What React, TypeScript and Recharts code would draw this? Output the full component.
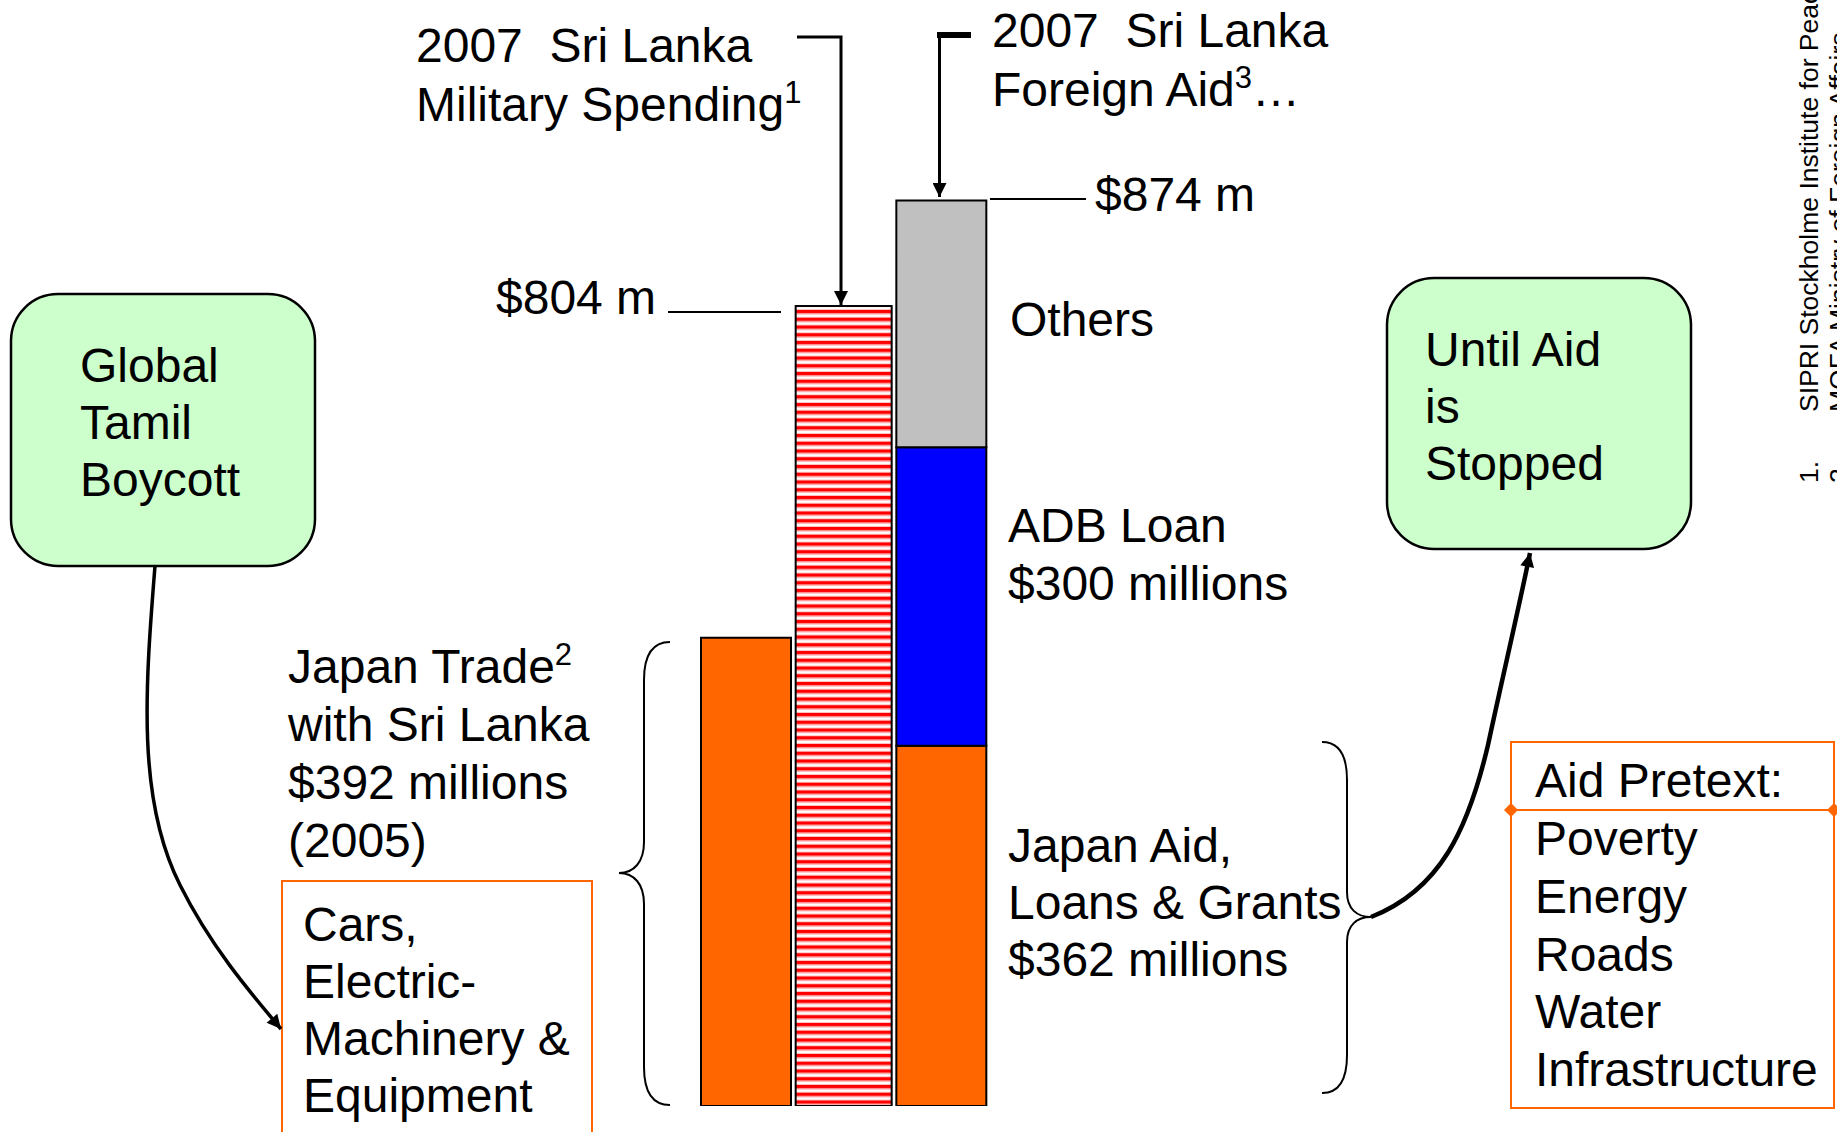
import React from 'react';
import { BarChart, Bar, XAxis, YAxis } from 'recharts';

// values in $ millions
const categories = ['Japan Trade 2005', 'Military Spending 2007', 'Foreign Aid 2007'];
const japanTrade = [392, null, null];
const militarySpending = [null, 804, null];
const japanAid = [null, null, 362];
const adbLoan = [null, null, 300];
const otherAid = [null, null, 248];

const data = categories.map((name, i) => ({
    name,
    trade: japanTrade[i],
    military: militarySpending[i],
    japanAid: japanAid[i],
    adb: adbLoan[i],
    others: otherAid[i],
}));

const W = 1837;
const H = 1132;
const font = '"Liberation Sans", Arial, Helvetica, sans-serif';
const orange = '#ff6600';

const StripedBar = (props: any) => {
    const { x, y, width, height } = props;
    if (!height) return null;
    return <rect x={x - 3} y={y} width={width + 6} height={height} fill="url(#redStripes)" stroke="#000" strokeWidth={2} />;
};

const Lines = ({ x, y, lines, lh = 58, size = 48 }: { x: number; y: number; lines: React.ReactNode[]; lh?: number; size?: number }) => (
    <text x={x} y={y} fontFamily={font} fontSize={size} fill="#000">
        {lines.map((l, i) => (
            <tspan key={i} x={x} y={y + i * lh}>{l}</tspan>
        ))}
    </text>
);

const Sup = ({ n }: { n: string }) => (
    <tspan fontSize={31} dy={-18}>{n}</tspan>
);

const Overlay = () => (
    <svg width={W} height={H} style={{ position: 'absolute', left: 0, top: 0, pointerEvents: 'none' }}>
        <defs>
            <marker id="arrow" viewBox="0 0 10 10" refX="10" refY="5" markerWidth="18" markerHeight="14" markerUnits="userSpaceOnUse" orient="auto">
                <path d="M0,0 L10,5 L0,10 z" fill="#000" />
            </marker>
        </defs>

        {/* top captions with connectors */}
        <text x={416} y={62} fontFamily={font} fontSize={48}>2007{'\u00a0\u00a0'}Sri Lanka</text>
        <text x={416} y={121} fontFamily={font} fontSize={48}>Military Spending<Sup n="1" /></text>
        <path d="M797,37 H841 V305" fill="none" stroke="#000" strokeWidth={3} markerEnd="url(#arrow)" />

        <text x={992} y={47} fontFamily={font} fontSize={48}>2007{'\u00a0\u00a0'}Sri Lanka</text>
        <text x={992} y={106} fontFamily={font} fontSize={48}>Foreign Aid<Sup n="3" /><tspan dy={18}>…</tspan></text>
        <line x1={937} y1={35} x2={971} y2={35} stroke="#000" strokeWidth={6} />
        <path d="M939.5,32 V197" fill="none" stroke="#000" strokeWidth={3} markerEnd="url(#arrow)" />

        {/* value callouts */}
        <line x1={990} y1={199} x2={1086} y2={199} stroke="#000" strokeWidth={2} />
        <text x={1095} y={211} fontFamily={font} fontSize={48}>$874 m</text>
        <line x1={668} y1={312} x2={781} y2={312} stroke="#000" strokeWidth={2} />
        <text x={496} y={314} fontFamily={font} fontSize={48}>$804 m</text>

        <Lines x={1010} y={336} lines={['Others']} />
        <Lines x={1008} y={542} lines={['ADB Loan', '$300 millions']} />
        <Lines x={1008} y={862} lines={['Japan Aid,', 'Loans & Grants', '$362 millions']} lh={57} />

        <Lines x={288} y={683} lines={[<>Japan Trade<Sup n="2" /></>, 'with Sri Lanka', '$392 millions', '(2005)']} />

        {/* left box and brace */}
        <rect x={282} y={881} width={310} height={270} fill="none" stroke={orange} strokeWidth={2} />
        <Lines x={303} y={941} lines={['Cars,', 'Electric-', 'Machinery &', 'Equipment']} lh={57} />
        <path d="M670,642 C652,642 644,656 644,680 L644,842 C644,862 634,873 619,873 C634,873 644,884 644,904 L644,1067 C644,1091 652,1105 670,1105"
            fill="none" stroke="#000" strokeWidth={2} />

        {/* global tamil boycott */}
        <rect x={11} y={294} width={304} height={272} rx={47} ry={47} fill="#ccffcc" stroke="#000" strokeWidth={2.5} />
        <Lines x={80} y={382} lines={['Global', 'Tamil', 'Boycott']} lh={57} />
        <path d="M155,566 C145,690 137,800 180,885 C210,945 248,990 281,1029" fill="none" stroke="#000" strokeWidth={3.5} markerEnd="url(#arrow)" />

        {/* until aid is stopped */}
        <rect x={1387} y={278} width={304} height={271} rx={47} ry={47} fill="#ccffcc" stroke="#000" strokeWidth={2.5} />
        <Lines x={1425} y={366} lines={['Until Aid', 'is', 'Stopped']} lh={57} />

        {/* right brace + arrow */}
        <path d="M1322,742 C1340,742 1347,756 1347,780 L1347,892 C1347,909 1357,917 1371,917 C1357,917 1347,925 1347,942 L1347,1055 C1347,1079 1340,1093 1322,1093"
            fill="none" stroke="#000" strokeWidth={2} />
        <path d="M1371,917 C1440,890 1468,830 1488,745 C1503,675 1518,612 1530,553" fill="none" stroke="#000" strokeWidth={4.5} markerEnd="url(#arrow)" />

        {/* aid pretext */}
        <rect x={1511} y={742} width={323} height={366} fill="none" stroke={orange} strokeWidth={2} />
        <line x1={1511} y1={810} x2={1834} y2={810} stroke={orange} strokeWidth={2} />
        <path d="M1511,803 L1518,810 L1511,817 L1504,810 z" fill={orange} />
        <path d="M1834,803 L1841,810 L1834,817 L1827,810 z" fill={orange} />
        <Lines x={1535} y={797} lines={['Aid Pretext:']} />
        <Lines x={1535} y={855} lines={['Poverty', 'Energy', 'Roads', 'Water', 'Infrastructure']} lh={57.8} />

        {/* footnotes, rotated (cut off at the page edge as in the source) */}
        <g fontFamily={font} fontSize={26.5}>
            <text x={1818} y={483} transform="rotate(-90 1818 483)">1.</text>
            <text x={1818} y={412} transform="rotate(-90 1818 412)">SIPRI Stockholme Institute for Peace</text>
            <text x={1848} y={483} transform="rotate(-90 1848 483)">2.</text>
            <text x={1848} y={412} transform="rotate(-90 1848 412)">MOFA Ministry of Foreign Affairs</text>
        </g>
    </svg>
);

export default function App() {
    return (
        <div style={{ position: 'absolute', left: 0, top: 0, width: W, height: H, background: '#fff', overflow: 'hidden' }}>
            <BarChart width={W} height={H} data={data} margin={{ top: 111, right: 847, bottom: 26, left: 697 }} barCategoryGap={4}>
                <defs>
                    <pattern id="redStripes" patternUnits="userSpaceOnUse" width={8} height={7.75}>
                        <rect x={0} y={0} width={8} height={7.75} fill="#fff" />
                        <rect x={0} y={0} width={8} height={3.4} fill="#ff0000" />
                        <rect x={0} y={3.4} width={8} height={1} fill="#ff9090" />
                        <rect x={0} y={6.75} width={8} height={1} fill="#ffc0c0" />
                    </pattern>
                </defs>
                <XAxis xAxisId="m" dataKey="name" hide />
                <XAxis xAxisId="t" dataKey="name" hide />
                <YAxis yAxisId="m" hide domain={[0, 1000]} allowDataOverflow />
                <YAxis yAxisId="t" hide domain={[0, 833]} allowDataOverflow />
                <Bar xAxisId="t" yAxisId="t" dataKey="trade" fill={orange} stroke="#000" strokeWidth={2} isAnimationActive={false} />
                <Bar xAxisId="m" yAxisId="m" dataKey="military" stackId="s" shape={StripedBar} isAnimationActive={false} />
                <Bar xAxisId="m" yAxisId="m" dataKey="japanAid" stackId="s" fill={orange} stroke="#000" strokeWidth={2} isAnimationActive={false} />
                <Bar xAxisId="m" yAxisId="m" dataKey="adb" stackId="s" fill="#0000ff" stroke="#000" strokeWidth={2} isAnimationActive={false} />
                <Bar xAxisId="m" yAxisId="m" dataKey="others" stackId="s" fill="#c0c0c0" stroke="#000" strokeWidth={2} isAnimationActive={false} />
            </BarChart>
            <Overlay />
        </div>
    );
}
